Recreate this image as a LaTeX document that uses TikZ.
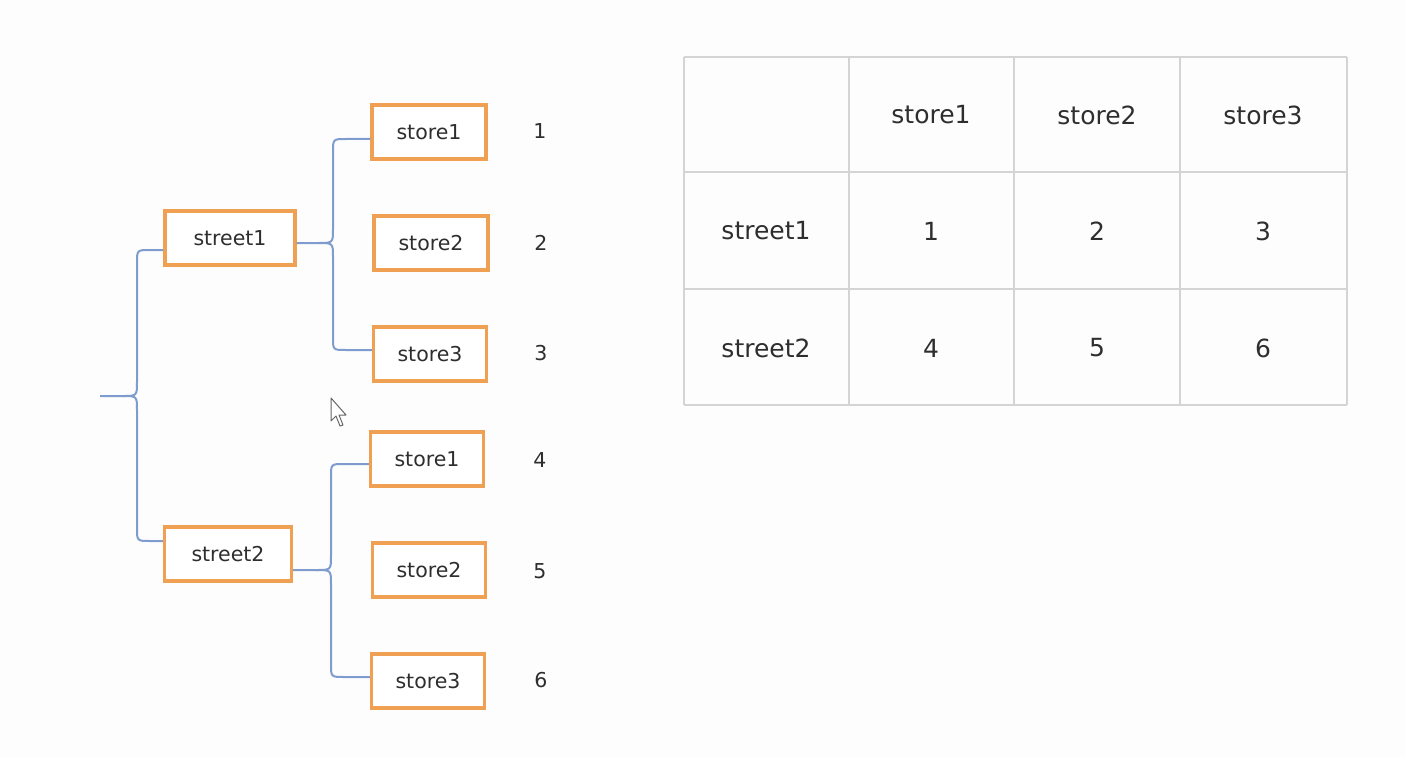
\documentclass[tikz,border=0pt]{standalone}
\usepackage{fontspec}
\setmainfont{DejaVu Sans}
\begin{document}
\begin{tikzpicture}[x=1pt,y=-1pt,
  box/.style={draw=boxorange,line width=3.2pt,fill=white,inner sep=0pt,minimum height=54pt,text=txt,font=\fontsize{20.5}{24}\selectfont},
  num/.style={text=txt,font=\fontsize{20.5}{24}\selectfont},
  cell/.style={text=txt,font=\fontsize{25}{30}\selectfont},
  conn/.style={draw=linkblue,line width=2pt},
  grid/.style={draw=gridgray,line width=1.6pt}]
\definecolor{boxorange}{HTML}{EFA053}
\definecolor{linkblue}{HTML}{7F9CCF}
\definecolor{txt}{HTML}{2E2E2E}
\definecolor{gridgray}{HTML}{D4D4D4}
\definecolor{bg}{HTML}{FDFDFD}
\fill[bg] (0,0) rectangle (1405,757);
\useasboundingbox (0,0) rectangle (1405,757);

% street boxes
\node[box,minimum width=130pt] (st1) at (230,238) {street1};
\node[box,minimum width=127pt] (st2) at (228,554) {street2};
% store boxes
\node[box,minimum width=114pt] (a1) at (429,132) {store1};
\node[box,minimum width=114pt] (a2) at (431,243) {store2};
\node[box,minimum width=113pt] (a3) at (430,354) {store3};
\node[box,minimum width=113pt] (b1) at (427,459) {store1};
\node[box,minimum width=113pt] (b2) at (429,570) {store2};
\node[box,minimum width=113pt] (b3) at (428,681) {store3};
% numbers
\node[num] (n1) at (540,131) {1};
\node[num] (n2) at (541,243) {2};
\node[num] (n3) at (541,353) {3};
\node[num] (n4) at (540,460) {4};
\node[num] (n5) at (540,571) {5};
\node[num] (n6) at (541,680) {6};

% main brace
\coordinate (tip) at (100,396);
\draw[conn] ([yshift=-12pt]st1.west) -- (150,250) .. controls (137,250) .. (137,263) -- (137,382) .. controls (137,396) .. (122,396) -- (tip);
\draw[conn] ([yshift=13pt]st2.west) -- (150,541) .. controls (137,541) .. (137,528) -- (137,410) .. controls (137,396) .. (122,396);
% street1 brace
\draw[conn] ([yshift=-5pt]st1.east) -- (318,243) .. controls (333,243) .. (333,229) -- (333,152) .. controls (333,139) .. (346,139) -- ([yshift=-7pt]a1.west);
\draw[conn] (318,243) .. controls (333,243) .. (333,257) -- (333,338) .. controls (333,350) .. (346,350) -- ([yshift=4pt]a3.west);
% street2 brace
\draw[conn] ([yshift=-16pt]st2.east) -- (316,570) .. controls (331,570) .. (331,556) -- (331,477) .. controls (331,464) .. (344,464) -- ([yshift=-5pt]b1.west);
\draw[conn] (316,570) .. controls (331,570) .. (331,584) -- (331,664) .. controls (331,677) .. (344,677) -- ([yshift=4pt]b3.west);

% mouse cursor
\draw[fill=white,draw=gray!80!black,line width=1pt,line join=round]
  (331,398) -- (331,421) -- (336,416) -- (340,426) -- (343,425) -- (339,415) -- (346,415) -- cycle;

% table
\foreach \x in {684,849,1014,1180,1347} \draw[grid] (\x,57) -- (\x,405);
\foreach \y in {57,172,289,405} \draw[grid] (684,\y) -- (1347,\y);
\node[cell] (h1) at (931,115) {store1};
\node[cell] (h2) at (1097,115) {store2};
\node[cell] (h3) at (1263,115) {store3};
\node[cell] (r1) at (766,231) {street1};
\node[cell] (r2) at (766,348) {street2};
\node[cell] (c11) at (931,231) {1};
\node[cell] (c12) at (1097,231) {2};
\node[cell] (c13) at (1263,231) {3};
\node[cell] (c21) at (931,348) {4};
\node[cell] (c22) at (1097,348) {5};
\node[cell] (c23) at (1263,348) {6};
\end{tikzpicture}
\end{document}
